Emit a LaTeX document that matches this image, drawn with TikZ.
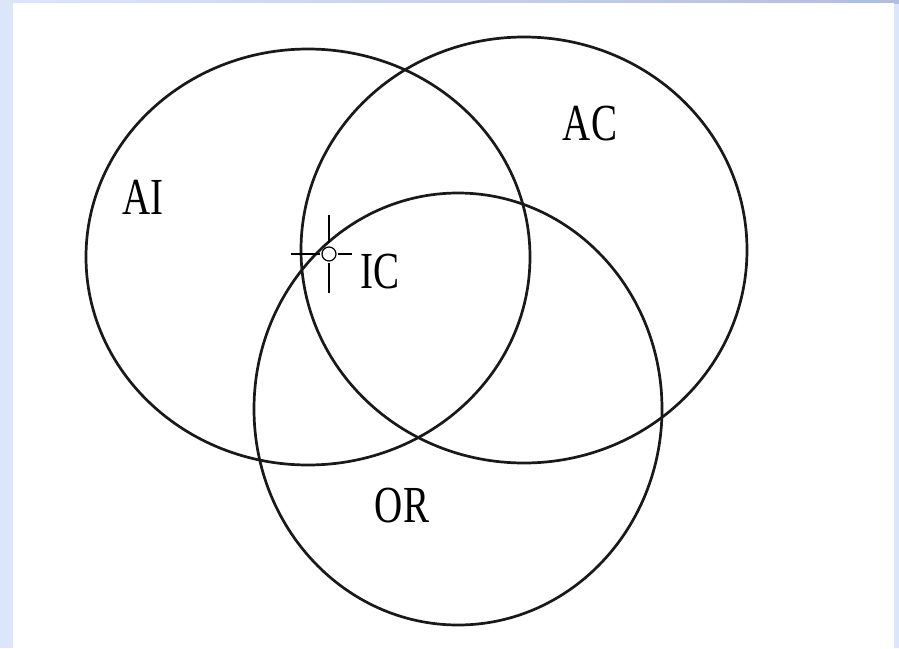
\documentclass[tikz,border=0pt]{standalone}
\usepackage{fontspec}
\setmainfont{Liberation Serif}
\usetikzlibrary{positioning}
\definecolor{framebg}{RGB}{220,230,250}
\definecolor{framedark}{RGB}{176,190,222}

\begin{document}
\begin{tikzpicture}[x=1pt,y=-1pt,thick]
        % frame and white sheet
        \useasboundingbox (0,0) rectangle (899,648);
        \fill[framebg] (0,0) rectangle (899,648);
        \shade[left color=framebg,right color=framedark] (0,0) rectangle (899,3);
        \fill[white] (13,3) rectangle (894,648);
        % the three sets
        \draw[line width=2.7pt,black!90] (308,257) ellipse [x radius=222,y radius=208];
        \draw[line width=2.7pt,black!90] (524,250) ellipse [x radius=223,y radius=213];
        \draw[line width=2.7pt,black!90] (458,409) ellipse [x radius=204,y radius=216];
        % labels
        \tikzset{setlabel/.style={font=\fontsize{52}{52}\selectfont,xscale=0.75,inner sep=0pt}}
        \node[setlabel] (ai) at (143,197) {AI};
        \node[setlabel] (ac) at (590,124) {AC};
        \node[setlabel] (ic) at (380,272) {IC};
        \node[setlabel] (or) at (402,506) {OR};
        % cursor crosshair
        \coordinate (cur) at (329,254);
        \draw[line width=2.2pt] (cur) ++(0,-39) -- ++(0,28);
        \draw[line width=2.2pt] (cur) ++(0,9) -- ++(0,30);
        \draw[line width=2.2pt] (cur) ++(-38,0) -- ++(29,0);
        \draw[line width=2.2pt] (cur) ++(9,0) -- ++(14,0);
        \draw[line width=1.2pt] (cur) circle [radius=7];
    \end{tikzpicture}
\end{document}
